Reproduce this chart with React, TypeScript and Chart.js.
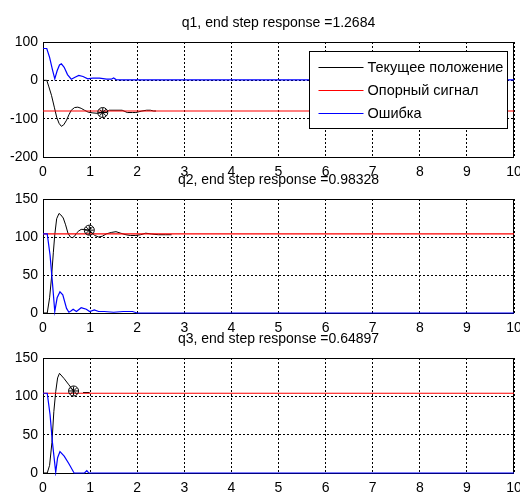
import React, { useEffect, useRef } from "react";
import { Chart, registerables } from "chart.js";

Chart.register(...registerables);

const FONT = "'Liberation Sans', Arial, Helvetica, sans-serif";

const legendLabels = ["Текущее положение", "Опорный сигнал", "Ошибка"];
const titles = [
  "q1, end step response =1.2684",
  "q2, end step response =0.98328",
  "q3, end step response =0.64897",
];

// ---- q1 ----
const q1Time = [0, 0.08, 0.12, 0.18, 0.24, 0.29, 0.34, 0.39, 0.44, 0.5, 0.55, 0.6, 0.67, 0.74, 0.81, 0.88, 0.96, 1.06, 1.15, 1.27, 1.35, 1.41, 1.55, 1.68, 1.79, 1.9, 1.97, 2.1, 2.2, 2.28, 2.35, 2.4];
const q1Pos = [0, 0, -15, -39, -70, -96, -112, -120, -116, -104, -90, -78, -71, -70, -73, -78, -83, -85, -86, -84, -82, -78, -78, -78, -84, -84, -84, -80, -78, -78, -80, -80];
const q1ErrTime = [0, 0.08, 0.14, 0.2, 0.25, 0.3, 0.35, 0.39, 0.45, 0.52, 0.6, 0.68, 0.76, 0.85, 0.95, 1.05, 1.2, 1.35, 1.45, 1.5, 1.55, 1.65, 10];
const q1Err = [83, 83, 60, 28, 4, 25, 40, 43, 34, 15, 3, 8, 13, 10, 4, 6, 6, 3, 3, 6, 2, 1, 1];
const q1Ref = [-80, -80];

// ---- q2 ----
const q2Time = [0, 0.09, 0.14, 0.18, 0.22, 0.25, 0.29, 0.34, 0.38, 0.43, 0.48, 0.53, 0.58, 0.62, 0.67, 0.71, 0.76, 0.81, 0.88, 0.97, 1.03, 1.1, 1.18, 1.26, 1.34, 1.45, 1.55, 1.65, 1.76, 1.86, 1.97, 2.07, 2.18, 2.3, 2.45, 2.6, 2.73];
const q2Pos = [0, 0, 20, 46, 80, 103, 124, 131, 129, 125, 116, 105, 100, 99, 101, 105, 108, 110, 110, 109, 106, 102, 100, 101, 104, 106, 107, 105, 103, 102, 102, 103, 105, 104, 103, 103, 103];
const q2ErrTime = [0, 0.09, 0.15, 0.2, 0.25, 0.3, 0.36, 0.42, 0.5, 0.55, 0.6, 0.64, 0.71, 0.77, 0.81, 0.86, 0.92, 0.99, 1.09, 1.18, 1.3, 1.5, 1.7, 1.9, 2.0, 10];
const q2Err = [104, 104, 76, 40, 2, 20, 28, 24, 6, 1, 3, 5, 2, 5, 7, 6, 5, 2, 4, 2, 2, 1, 2, 2, 0, 0];
const q2Ref = [104, 104];

// ---- q3 ----
const q3Time = [0, 0.09, 0.14, 0.19, 0.23, 0.27, 0.31, 0.35, 0.45, 0.55, 0.649, 0.75, 0.85, 0.99];
const q3Pos: (number | null)[] = [0, 0, 10, 40, 80, 106, 124, 130, 123, 115, 107, null, 105, 105];
const q3ErrTime = [0, 0.09, 0.15, 0.2, 0.27, 0.31, 0.36, 0.45, 0.55, 0.66, 0.88, 0.93, 0.97, 10];
const q3Err = [104, 104, 76, 40, 1, 20, 28, 22, 12, 0, 0, 3, 0, 0];
const q3Ref = [104, 104];

const refTime = [0, 10];
const markerTime = [1.2684, 0.98328, 0.64897];
const markerValue = [-84, 109, 107];

const yMins = [-200, 0, 0];
const yMaxs = [100, 150, 150];
const ySteps = [100, 50, 50];

// layout (pixel positions of each plot box)
const boxTop = [42, 199, 358];
const boxBottom = [157, 313, 473];

const W = 520;
const H = 496;
const X_AXIS_H = 20;
const Y_AXIS_W = 43;

const pts = (t: number[], v: (number | null)[]) => t.map((x, i) => ({ x, y: v[i] }));

const series = [
  { time: q1Time, pos: q1Pos, errTime: q1ErrTime, err: q1Err, ref: q1Ref },
  { time: q2Time, pos: q2Pos, errTime: q2ErrTime, err: q2Err, ref: q2Ref },
  { time: q3Time, pos: q3Pos, errTime: q3ErrTime, err: q3Err, ref: q3Ref },
];

const lineColors = ["#000000", "#ff0000", "#0000ff"];

function SubPlot({ idx }: { idx: number }) {
  const canvasRef = useRef<HTMLCanvasElement>(null);
  useEffect(() => {
    const s = series[idx];
    const framePlugin = {
      id: "frame",
      beforeDatasetsDraw(chart: any) {
        const { ctx, chartArea: a } = chart;
        ctx.save();
        ctx.strokeStyle = "#000";
        ctx.lineWidth = 1;
        ctx.setLineDash([]);
        ctx.strokeRect(Math.round(a.left) + 0.5, Math.round(a.top) + 0.5, Math.round(a.right - a.left) - 1, Math.round(a.bottom - a.top));
        ctx.restore();
      },
      afterDraw(chart: any) {
        const { ctx, chartArea: a } = chart;
        ctx.save();
        ctx.fillStyle = "#000";
        ctx.font = `14px ${FONT}`;
        ctx.textAlign = "center";
        ctx.textBaseline = "middle";
        ctx.fillText(titles[idx], (a.left + a.right) / 2, a.top - 19);
        if (idx === 0) {
          const bw = 198;
          const bh = 77;
          const x0 = Math.round(a.right - 7 - bw) + 0.5;
          const y0 = Math.round(a.top + 9) + 0.5;
          ctx.fillStyle = "#fff";
          ctx.fillRect(x0, y0, bw, bh);
          ctx.strokeStyle = "#000";
          ctx.lineWidth = 1;
          ctx.strokeRect(x0, y0, bw, bh);
          const rows = [16, 39, 62];
          ctx.font = `14.5px ${FONT}`;
          ctx.textAlign = "left";
          for (let i = 0; i < 3; i++) {
            const yy = Math.round(y0 + rows[i] - 1) + 0.5;
            ctx.strokeStyle = lineColors[i];
            ctx.lineWidth = 1.2;
            ctx.beginPath();
            ctx.moveTo(x0 + 9, yy);
            ctx.lineTo(x0 + 54, yy);
            ctx.stroke();
            ctx.fillStyle = "#000";
            ctx.fillText(legendLabels[i], x0 + 58, y0 + rows[i]);
          }
        }
        ctx.restore();
      },
    };

    const tickFont = { family: FONT, size: 14 };
    const chart = new Chart(canvasRef.current as HTMLCanvasElement, {
      type: "line",
      data: {
        datasets: [
          {
            label: "marker-circle",
            data: [{ x: markerTime[idx], y: markerValue[idx] }],
            showLine: false,
            pointStyle: "circle",
            pointRadius: 5,
            borderColor: "#000",
            backgroundColor: "rgba(0,0,0,0)",
            borderWidth: 1,
            order: 0,
          },
          {
            label: "marker-star",
            data: [{ x: markerTime[idx], y: markerValue[idx] }],
            showLine: false,
            pointStyle: "star",
            pointRadius: 4.5,
            borderColor: "#000",
            backgroundColor: "rgba(0,0,0,0)",
            borderWidth: 1,
            order: 0,
          },
          {
            label: legendLabels[2],
            data: pts(s.errTime, s.err),
            borderColor: lineColors[2],
            borderWidth: 1.2,
            pointRadius: 0,
            order: 1,
            clip: 3,
          },
          {
            label: legendLabels[1],
            data: pts(refTime, s.ref),
            borderColor: lineColors[1],
            borderWidth: 1.2,
            pointRadius: 0,
            order: 2,
            clip: 3,
          },
          {
            label: legendLabels[0],
            data: pts(s.time, s.pos),
            borderColor: lineColors[0],
            borderWidth: 1,
            pointRadius: 0,
            spanGaps: false,
            order: 3,
            clip: 3,
          },
        ] as any,
      },
      options: {
        responsive: false,
        animation: false,
        events: [],
        layout: {
          padding: {
            top: boxTop[idx],
            left: 0,
            right: 1,
            bottom: H - boxBottom[idx] - X_AXIS_H,
          },
        },
        elements: { line: { tension: 0 } },
        plugins: {
          legend: { display: false },
          tooltip: { enabled: false },
          title: { display: false },
        },
        scales: {
          x: {
            type: "linear",
            position: "bottom",
            min: 0,
            max: 10,
            ticks: {
              stepSize: 1,
              autoSkip: false,
              maxRotation: 0,
              padding: 7,
              color: "#000",
              font: tickFont,
            },
            grid: { color: "#000", lineWidth: 1, drawTicks: false },
            border: { display: false, dash: [2, 2] },
            afterFit: (sc: any) => {
              sc.height = X_AXIS_H;
              sc.paddingLeft = 0;
              sc.paddingRight = 0;
            },
          },
          y: {
            type: "linear",
            position: "left",
            min: yMins[idx],
            max: yMaxs[idx],
            ticks: {
              stepSize: ySteps[idx],
              autoSkip: false,
              padding: 5,
              color: "#000",
              font: tickFont,
            },
            grid: { color: "#000", lineWidth: 1, drawTicks: false },
            border: { display: false, dash: [2, 2] },
            afterFit: (sc: any) => {
              sc.width = Y_AXIS_W;
              sc.paddingTop = 0;
              sc.paddingBottom = 0;
            },
          },
        } as any,
      },
      plugins: [framePlugin],
    });
    return () => chart.destroy();
  }, [idx]);

  return (
    <canvas
      ref={canvasRef}
      width={W}
      height={H}
      style={{ position: "absolute", left: 0, top: 0, width: W, height: H }}
    />
  );
}

export default function App() {
  return (
    <div style={{ position: "fixed", left: 0, top: 0, width: W, height: H, background: "#fff", overflow: "hidden" }}>
      <SubPlot idx={0} />
      <SubPlot idx={1} />
      <SubPlot idx={2} />
    </div>
  );
}
